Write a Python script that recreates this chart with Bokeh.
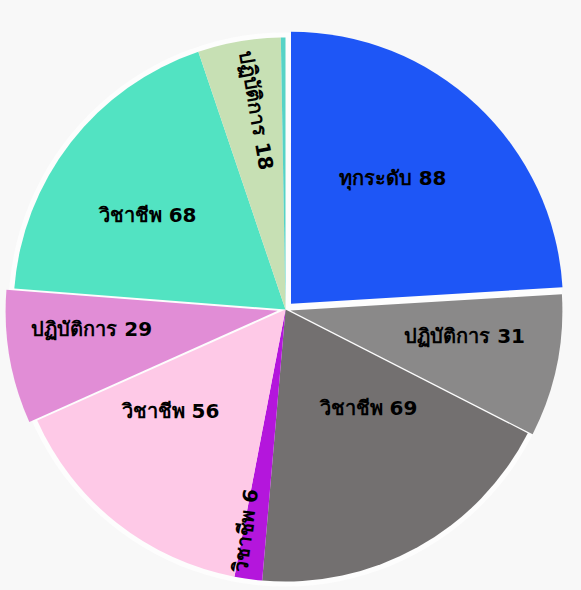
import numpy as np
from bokeh.plotting import figure
from bokeh.models import ColumnDataSource, Range1d
from bokeh.core.properties import value
from bokeh.embed import file_html
from bokeh.resources import INLINE

# ---- data ----
names = ["ทุกระดับ", "ปฏิบัติการ", "วิชาชีพ", "วิชาชีพ", "วิชาชีพ",
         "ปฏิบัติการ", "วิชาชีพ", "ปฏิบัติการ", ""]
values = [88, 31, 69, 6, 56, 29, 68, 18, 1]

# ---- style ----
colors = ["#1e56f6", "#8a8989", "#737070", "#b416dc", "#fec9e7",
          "#e18dd6", "#52e3c2", "#c7e0b4", "#56d3c6"]
pulls = [8, 5, 0, 0, 0, 8, 0, 0, 0]
label_frac = [0.595, 0.647, 0.474, 0.826, 0.563, 0.687, 0.615, 0.74, 0.0]
label_turn = [4.4, 3.6, 11.0, -2.4, -10.3, -4.2, 3.4, -1.5, 0.0]  # degrees
rotated = [False, False, False, True, False, False, False, True, False]

W, H = 581, 590
CX, CY, R = 285, -309, 272

vals = np.array(values, dtype=float)
frac = vals / vals.sum()
cum = np.concatenate([[0], np.cumsum(frac)])
start_deg = 90 - 360 * cum[:-1]   # clockwise from 12 o'clock
end_deg = 90 - 360 * cum[1:]
mid_deg = (start_deg + end_deg) / 2
mid = np.radians(mid_deg)

xs = CX + np.array(pulls) * np.cos(mid)
ys = CY + np.array(pulls) * np.sin(mid)

wedges = ColumnDataSource(dict(
    x=xs, y=ys,
    a0=np.radians(end_deg), a1=np.radians(start_deg),
    color=colors,
))

p = figure(width=W, height=H, output_backend="svg", toolbar_location=None,
           x_range=Range1d(0, W), y_range=Range1d(-H, 0),
           min_border=0)
p.axis.visible = False
p.grid.visible = False
p.outline_line_color = None
p.background_fill_color = "#f8f8f8"
p.border_fill_color = "#f8f8f8"

p.circle(x=[CX], y=[CY], radius=277, fill_color="#fdfdfd", line_color=None)
p.wedge(x="x", y="y", radius=R, start_angle="a0", end_angle="a1",
        direction="anticlock", fill_color="color", line_color=None,
        source=wedges)

lx, ly, lt, la = [], [], [], []
for i, n in enumerate(names):
    if not n:
        continue
    d = label_frac[i] * R
    a = mid[i] + np.radians(label_turn[i])
    lx.append(xs[i] + d * np.cos(a))
    ly.append(ys[i] + d * np.sin(a))
    lt.append(f"{n} {values[i]}")
    la.append(mid[i] + np.pi if rotated[i] else 0.0)

labels = ColumnDataSource(dict(x=lx, y=ly, text=lt, angle=la))
p.text(x="x", y="y", text="text", angle="angle", source=labels,
       text_font=value("DejaVu Sans"), text_font_size="20px",
       text_font_style="bold",
       text_color="#000000", text_align="center", text_baseline="middle")

html = file_html(p, INLINE)
html = html.replace("<head>", "<head><style>body{background:#f8f8f8;}</style>", 1)
open("out.html", "w").write(html)
